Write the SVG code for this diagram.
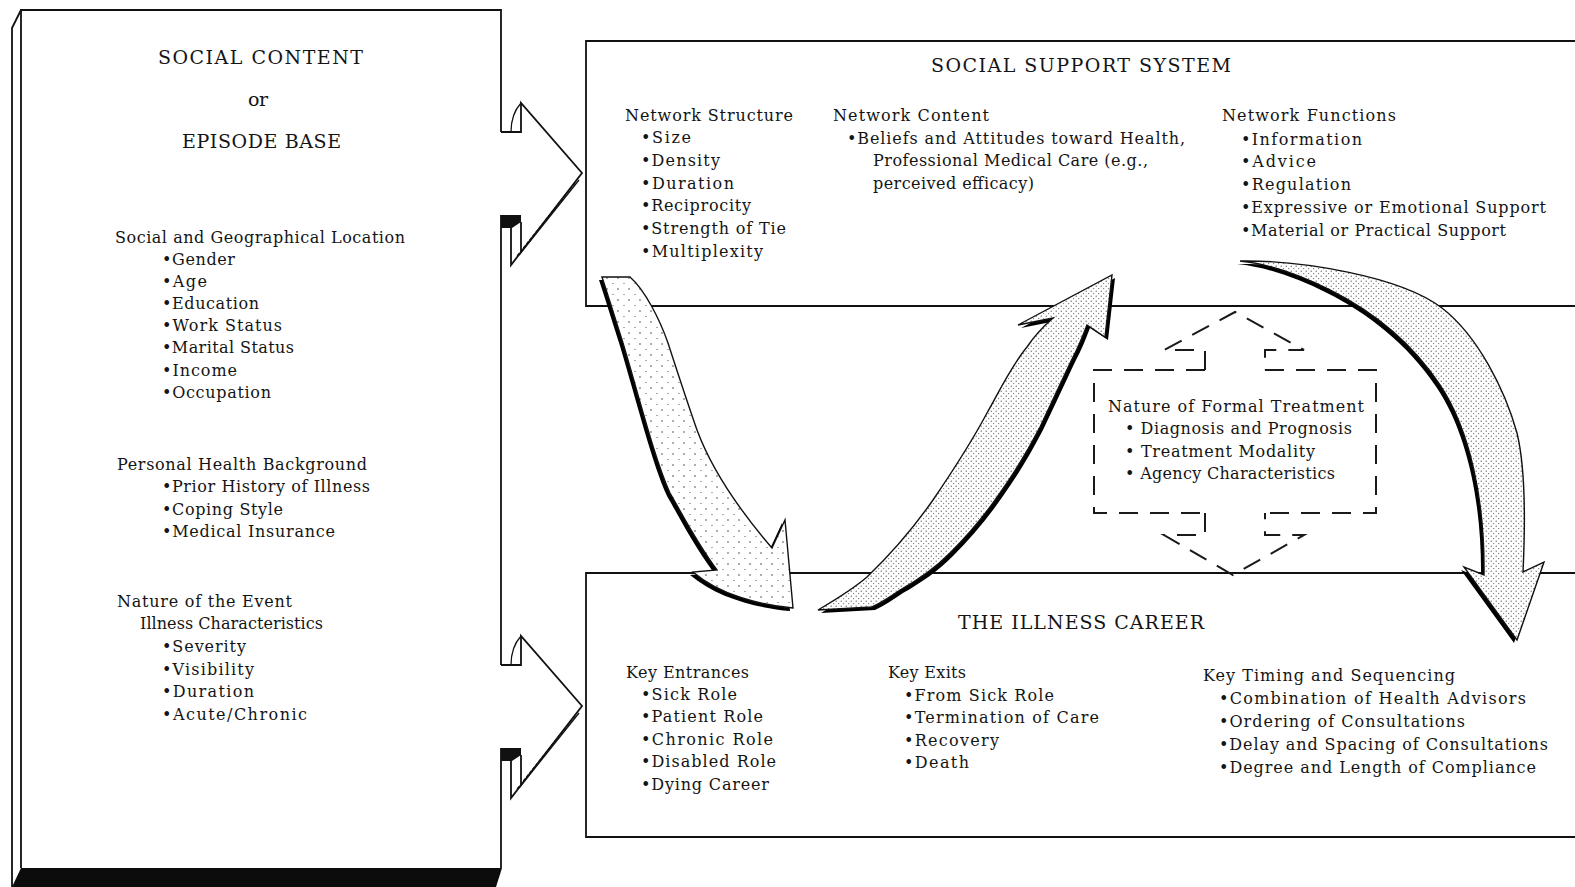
<svg xmlns="http://www.w3.org/2000/svg" xmlns:xlink="http://www.w3.org/1999/xlink" width="1575" height="887" viewBox="0 0 1575 887">
  <style>
    .ln { fill: none; stroke: #111; stroke-width: 1.8; stroke-linejoin: miter; }
    .thin { fill: none; stroke: #111; stroke-width: 1.3; }
    .dash { fill: none; stroke: #1a1a1a; stroke-width: 2; stroke-dasharray: 19 12; }
    text { font-family: "DejaVu Serif", "Liberation Serif", serif; fill: #141414; }
    .t { font-size: 16px; }
    .h { font-size: 19px; }
    .arrowBody { stroke: #111; stroke-width: 1.4; stroke-linejoin: miter; }
  </style>
  <defs>
    <!-- sparse stipple for the descending arrow -->
    <pattern id="stippleSparse" width="11" height="11" patternUnits="userSpaceOnUse">
      <rect width="11" height="11" fill="#fff"/>
      <circle cx="2" cy="3" r="0.75" fill="#333"/>
      <circle cx="8" cy="8.5" r="0.6" fill="#444"/>
    </pattern>
    <!-- denser stipple for the two other arrows -->
    <pattern id="stippleDense" width="5" height="5" patternUnits="userSpaceOnUse">
      <rect width="5" height="5" fill="#fff"/>
      <circle cx="1.2" cy="1.2" r="0.6" fill="#444"/>
      <circle cx="3.7" cy="3.6" r="0.55" fill="#555"/>
    </pattern>
    <path id="arrowDown" d="M602,277 L630,277 C645,290 660,320 668,343 C680,380 690,410 697,430 C710,465 735,505 772,548 L785,520 L793,608 C760,605 720,595 693,572 L717,570 C695,540 680,510 670,493 C655,460 640,400 623,343 C615,318 608,295 602,277 Z"/>
    <path id="arrowUp" d="M818,610 C835,600 852,590 867,577 C890,555 912,530 933,500 C950,475 970,445 987,413 C1000,390 1012,365 1027,347 C1035,335 1045,325 1053,318 L1018,325 L1112,275 L1105,337 L1087,325 C1082,338 1078,348 1073,357 C1062,380 1052,402 1040,427 C1027,452 1015,472 1000,493 C985,515 968,535 950,553 C935,568 918,580 900,590 C890,597 880,603 872,607 Z"/>
    <path id="arrowArc" d="M1240,261 C1300,260 1400,276 1442,308 C1478,336 1505,390 1517,433 C1526,470 1525,530 1523,572 L1544,562 L1517,640 L1464,567 L1484,575 C1485,500 1470,430 1440,385 C1410,340 1370,310 1330,290 C1300,275 1270,264 1240,261 Z"/>
    <!-- hollow block arrow leaving the episode base -->
    <g id="blockArrow">
      <path class="ln" d="M501,132 L521,132 L521,103 L582,173 L511,265 L511,228"/>
      <path class="thin" d="M521,103 Q511,114 511,132"/>
      <path class="thin" d="M579,180 L519,255"/>
      <path class="thin" d="M575,183 L517,256" stroke-dasharray="3 2"/>
      <path class="ln" d="M521,222 L521,253"/>
      <polygon points="501,215 521,215 521,222 512,228 501,228" fill="#111"/>
    </g>
  </defs>

  <rect width="1575" height="887" fill="#fff"/>

  <!-- Episode base: box drawn as a slab -->
  <g id="episode-base">
    <polygon points="21,868 502,868 496,887 12,887" fill="#0c0c0c"/>
    <path class="ln" d="M501,132 L501,10 L21,10 L21,868"/>
    <path class="ln" d="M12,887 L12,28 L21,10"/>
    <path class="ln" d="M501,215 L501,665"/>
    <path class="ln" d="M501,748 L501,868"/>
    <text class="h" x="158" y="64" textLength="205">SOCIAL CONTENT</text>
    <text class="h" x="248" y="106" textLength="20">or</text>
    <text class="h" x="182" y="148" textLength="159">EPISODE BASE</text>

    <text class="t" x="115" y="243" textLength="290">Social and Geographical Location</text>
    <text class="t" x="162" y="265" textLength="73">•Gender</text>
    <text class="t" x="162" y="287" textLength="45">•Age</text>
    <text class="t" x="162" y="309" textLength="97">•Education</text>
    <text class="t" x="162" y="331" textLength="120">•Work Status</text>
    <text class="t" x="162" y="353" textLength="132">•Marital Status</text>
    <text class="t" x="162" y="376" textLength="75">•Income</text>
    <text class="t" x="162" y="398" textLength="109">•Occupation</text>

    <text class="t" x="117" y="470" textLength="250">Personal Health Background</text>
    <text class="t" x="162" y="492" textLength="208">•Prior History of Illness</text>
    <text class="t" x="162" y="515" textLength="121">•Coping Style</text>
    <text class="t" x="162" y="537" textLength="173">•Medical Insurance</text>

    <text class="t" x="117" y="607" textLength="175">Nature of the Event</text>
    <text class="t" x="140" y="629" textLength="183">Illness Characteristics</text>
    <text class="t" x="162" y="652" textLength="84">•Severity</text>
    <text class="t" x="162" y="675" textLength="92">•Visibility</text>
    <text class="t" x="162" y="697" textLength="92">•Duration</text>
    <text class="t" x="162" y="720" textLength="145">•Acute/Chronic</text>
  </g>

  <!-- Social support system -->
  <g id="social-support-system">
    <path class="ln" d="M1580,41 L586,41 L586,306 L1580,306"/>
    <text class="h" x="931" y="72" textLength="300">SOCIAL SUPPORT SYSTEM</text>

    <text class="t" x="625" y="121" textLength="168">Network Structure</text>
    <text class="t" x="641" y="143" textLength="50">•Size</text>
    <text class="t" x="641" y="166" textLength="79">•Density</text>
    <text class="t" x="641" y="189" textLength="93">•Duration</text>
    <text class="t" x="641" y="211" textLength="110">•Reciprocity</text>
    <text class="t" x="641" y="234" textLength="145">•Strength of Tie</text>
    <text class="t" x="641" y="257" textLength="122">•Multiplexity</text>

    <text class="t" x="833" y="121" textLength="156">Network Content</text>
    <text class="t" x="847" y="144" textLength="338">•Beliefs and Attitudes toward Health,</text>
    <text class="t" x="873" y="166" textLength="275">Professional Medical Care (e.g.,</text>
    <text class="t" x="873" y="189" textLength="161">perceived efficacy)</text>

    <text class="t" x="1222" y="121" textLength="174">Network Functions</text>
    <text class="t" x="1241" y="145" textLength="121">•Information</text>
    <text class="t" x="1241" y="167" textLength="75">•Advice</text>
    <text class="t" x="1241" y="190" textLength="110">•Regulation</text>
    <text class="t" x="1241" y="213" textLength="305">•Expressive or Emotional Support</text>
    <text class="t" x="1241" y="236" textLength="265">•Material or Practical Support</text>
  </g>

  <!-- Illness career -->
  <g id="illness-career">
    <path class="ln" d="M1580,573 L586,573 L586,837 L1580,837"/>
    <text class="h" x="958" y="629" textLength="246">THE ILLNESS CAREER</text>

    <text class="t" x="626" y="678" textLength="123">Key Entrances</text>
    <text class="t" x="641" y="700" textLength="96">•Sick Role</text>
    <text class="t" x="641" y="722" textLength="122">•Patient Role</text>
    <text class="t" x="641" y="745" textLength="132">•Chronic Role</text>
    <text class="t" x="641" y="767" textLength="135">•Disabled Role</text>
    <text class="t" x="641" y="790" textLength="128">•Dying Career</text>

    <text class="t" x="888" y="678" textLength="78">Key Exits</text>
    <text class="t" x="904" y="701" textLength="150">•From Sick Role</text>
    <text class="t" x="904" y="723" textLength="195">•Termination of Care</text>
    <text class="t" x="904" y="746" textLength="95">•Recovery</text>
    <text class="t" x="904" y="768" textLength="65">•Death</text>

    <text class="t" x="1203" y="681" textLength="252">Key Timing and Sequencing</text>
    <text class="t" x="1219" y="704" textLength="307">•Combination of Health Advisors</text>
    <text class="t" x="1219" y="727" textLength="246">•Ordering of Consultations</text>
    <text class="t" x="1219" y="750" textLength="329">•Delay and Spacing of Consultations</text>
    <text class="t" x="1219" y="773" textLength="317">•Degree and Length of Compliance</text>
  </g>

  <!-- Formal treatment, dashed box -->
  <g id="formal-treatment">
    <path class="dash" d="M1205,370 L1094,370 L1094,513 L1205,513"/>
    <path class="dash" d="M1265,370 L1376,370 L1376,513 L1265,513"/>
    <text class="t" x="1108" y="412" textLength="256">Nature of Formal Treatment</text>
    <text class="t" x="1125" y="434" textLength="227">• Diagnosis and Prognosis</text>
    <text class="t" x="1125" y="457" textLength="190">• Treatment Modality</text>
    <text class="t" x="1125" y="479" textLength="210">• Agency Characteristics</text>
  </g>

  <!-- Connectors -->
  <g id="connectors">
    <use xlink:href="#blockArrow"/>
    <use xlink:href="#blockArrow" transform="translate(0,533)"/>

    <!-- two-way dashed arrow between support system and illness career -->
    <path class="dash" d="M1205,370 L1205,350 L1164,350 L1235,312 L1304,350 L1265,350 L1265,370"/>
    <path class="dash" d="M1205,513 L1205,535 L1164,535 L1233,575 L1304,535 L1265,535 L1265,513"/>

    <use xlink:href="#arrowDown" transform="translate(-3,3)" fill="#000"/>
    <use xlink:href="#arrowDown" class="arrowBody" fill="url(#stippleSparse)"/>

    <use xlink:href="#arrowUp" transform="translate(3,3)" fill="#000"/>
    <use xlink:href="#arrowUp" class="arrowBody" fill="url(#stippleDense)"/>

    <use xlink:href="#arrowArc" transform="translate(-3,3)" fill="#000"/>
    <use xlink:href="#arrowArc" class="arrowBody" fill="url(#stippleDense)"/>
  </g>
</svg>
